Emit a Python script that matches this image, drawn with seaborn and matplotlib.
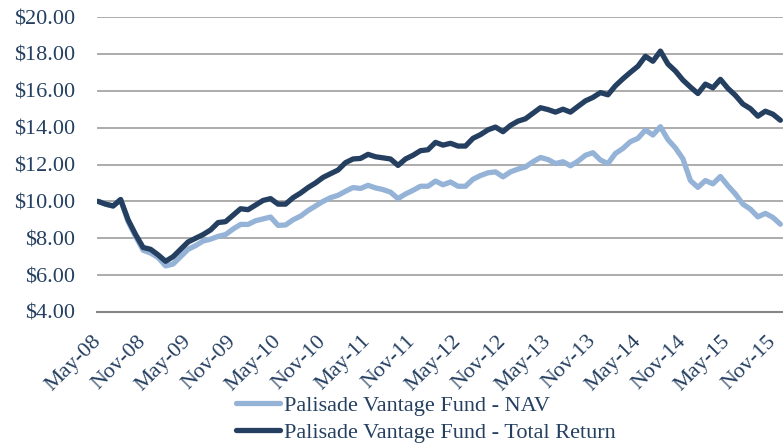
import pandas as pd
import matplotlib
matplotlib.use("Agg")
import matplotlib.pyplot as plt
import seaborn as sns

# monthly values, May-08 .. Dec-15
nav = [10.0, 9.85, 9.75, 10.1, 8.9, 8.1, 7.35, 7.2, 6.95, 6.5,
       6.6, 7.0, 7.4, 7.6, 7.85, 7.95, 8.1, 8.2, 8.5, 8.75,
       8.75, 8.95, 9.05, 9.15, 8.7, 8.72, 9.0, 9.2, 9.5, 9.75,
       10.0, 10.2, 10.33, 10.55, 10.75, 10.7, 10.87, 10.73, 10.64, 10.5,
       10.15, 10.4, 10.6, 10.82, 10.82, 11.1, 10.9, 11.05, 10.82, 10.82,
       11.2, 11.4, 11.55, 11.6, 11.33, 11.6, 11.75, 11.87, 12.15, 12.38,
       12.27, 12.05, 12.15, 11.93, 12.18, 12.5, 12.64, 12.24, 12.05, 12.6,
       12.87, 13.24, 13.42, 13.87, 13.6, 14.05, 13.35, 12.9, 12.31, 11.13,
       10.76, 11.13, 10.95, 11.35, 10.85, 10.4, 9.85, 9.58, 9.16, 9.35,
       9.13, 8.76]
total_return = [10.0, 9.85, 9.75, 10.1, 9.0, 8.2, 7.5, 7.4, 7.1, 6.75,
                7.0, 7.4, 7.8, 8.0, 8.2, 8.45, 8.85, 8.9, 9.25, 9.6,
                9.55, 9.8, 10.05, 10.15, 9.85, 9.85, 10.2, 10.45, 10.75, 11.0,
                11.3, 11.5, 11.7, 12.1, 12.3, 12.33, 12.55, 12.42, 12.36, 12.3,
                11.95, 12.3, 12.5, 12.75, 12.8, 13.2, 13.05, 13.15, 13.0, 13.0,
                13.42, 13.62, 13.88, 14.03, 13.78, 14.12, 14.35, 14.48, 14.78, 15.08,
                14.98, 14.84, 15.0, 14.84, 15.15, 15.45, 15.64, 15.9, 15.78, 16.27,
                16.65, 17.0, 17.33, 17.87, 17.6, 18.15, 17.45, 17.07, 16.58, 16.2,
                15.85, 16.36, 16.16, 16.62, 16.13, 15.75, 15.28, 15.03, 14.62, 14.89,
                14.73, 14.4]
series_names = ["Palisade Vantage Fund - NAV", "Palisade Vantage Fund - Total Return"]
months = pd.date_range("2008-05-01", periods=len(nav), freq="MS")
tick_labels = [m.strftime("%b-%y") for m in months]

df = pd.DataFrame({
    "month": list(range(len(nav))) * 2,
    "value": nav + total_return,
    "series": [series_names[0]] * len(nav) + [series_names[1]] * len(total_return),
})

text_color = "#243F60"
fs = 16
sns.set_style("white")
plt.rcParams["font.family"] = ["Liberation Serif", "DejaVu Serif"]

fig = plt.figure(figsize=(7.83, 4.45), dpi=100)
ax = fig.add_axes([97 / 783, 1 - 312 / 445, 1 - 97 / 783, (312 - 17) / 445])

sns.lineplot(data=df, x="month", y="value", hue="series", hue_order=series_names,
             palette=["#95B3D7", text_color], linewidth=3.8, ax=ax)

ax.set_xlim(-0.15, 91.35)
ax.set_ylim(4, 20)
ax.set_yticks(range(4, 21, 2))
ax.set_yticklabels([f"${v:.2f}" for v in range(4, 21, 2)])
ax.yaxis.grid(True, color="#A6A6A6", linewidth=1.3)
ax.set_axisbelow(True)
for s in ["top", "right", "left"]:
    ax.spines[s].set_visible(False)
ax.spines["bottom"].set_color("#868686")
ax.spines["bottom"].set_linewidth(1.5)

idx = list(range(0, len(nav), 6))
ax.set_xticks(idx)
ax.set_xticklabels([tick_labels[i] for i in idx], rotation=45, ha="right",
                   va="center", rotation_mode="anchor")
ax.tick_params(axis="both", length=0, labelsize=fs, labelcolor=text_color)
ax.tick_params(axis="y", pad=16)
ax.tick_params(axis="x", pad=19)
ax.set_xlabel("")
ax.set_ylabel("")

leg = ax.legend(loc="upper left", bbox_to_anchor=(236 / 783, 1 - 395 / 445),
                bbox_transform=fig.transFigure, frameon=False, fontsize=fs,
                handlelength=2.0, handletextpad=0.15, labelspacing=0.3,
                borderaxespad=0, borderpad=0)
for t in leg.get_texts():
    t.set_color(text_color)
for h in leg.get_lines():
    h.set_linewidth(3.8)

fig.savefig("out.png", dpi=100)
